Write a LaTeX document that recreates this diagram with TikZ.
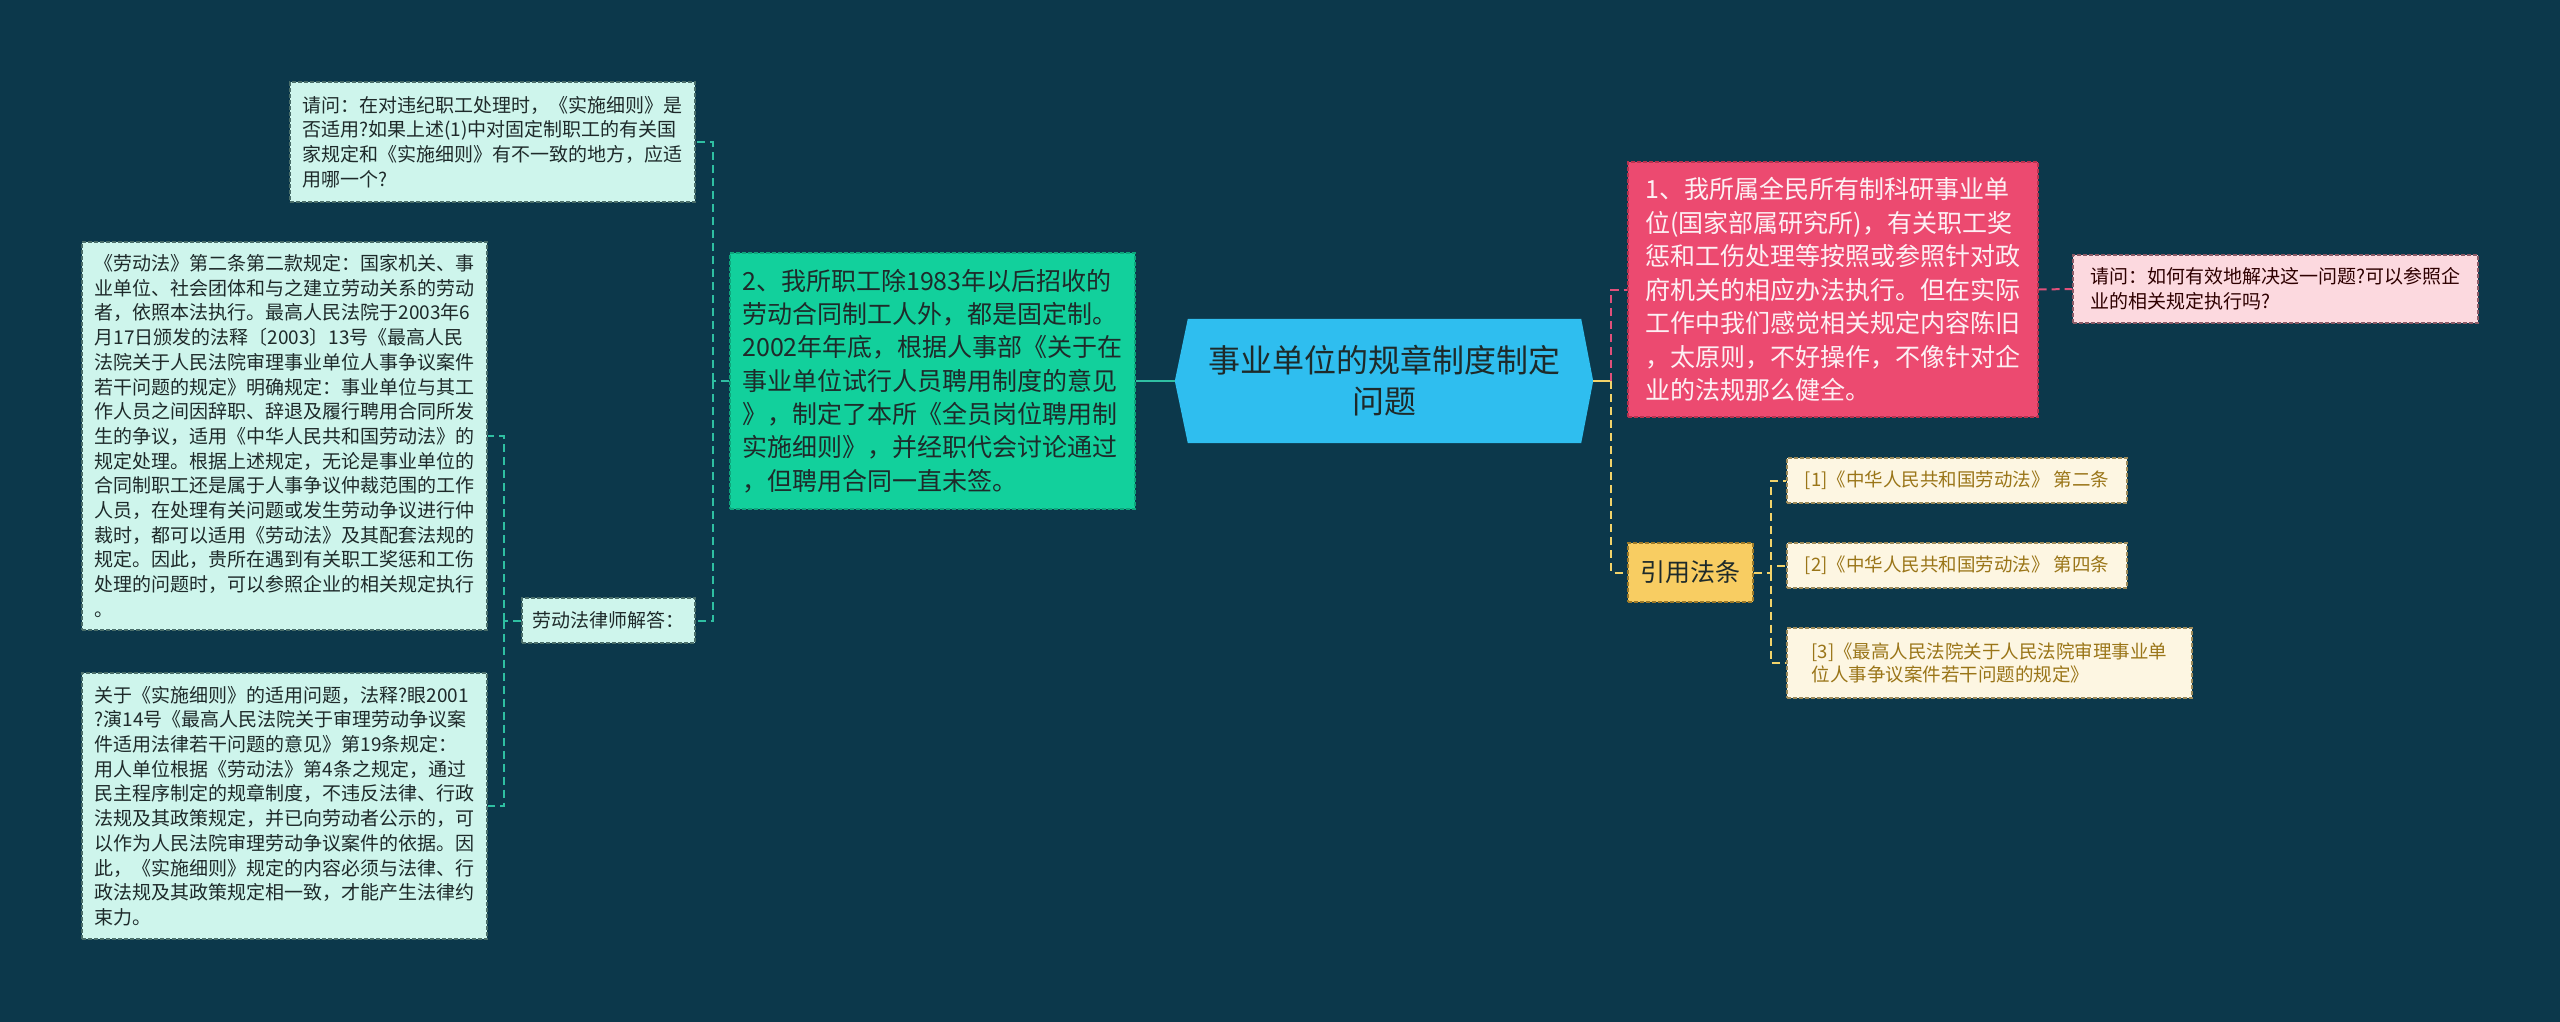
\documentclass[tikz,border=0pt]{standalone}
\usepackage{fontspec}
\setmainfont{Noto Sans CJK SC}
\usetikzlibrary{backgrounds}
\definecolor{bg}{HTML}{0C384B}
\definecolor{hexc}{HTML}{2FBEEF}
\definecolor{greenn}{HTML}{12D09C}
\definecolor{greennb}{HTML}{0EA57C}
\definecolor{mint}{HTML}{CEF5EC}
\definecolor{mintb}{HTML}{4A6E6A}
\definecolor{pinkn}{HTML}{EC4A70}
\definecolor{pinknb}{HTML}{B8324F}
\definecolor{pinkq}{HTML}{FCD9DF}
\definecolor{pinkqb}{HTML}{8A5A66}
\definecolor{yel}{HTML}{F8CD62}
\definecolor{yelb}{HTML}{9C7A2A}
\definecolor{cream}{HTML}{FDF6E2}
\definecolor{creamb}{HTML}{9C8A5A}
\definecolor{reftext}{HTML}{9A7518}
\definecolor{tealline}{HTML}{2FBFA2}
\definecolor{pinkline}{HTML}{E0507A}
\definecolor{yelline}{HTML}{F2D36A}
\definecolor{darktext}{HTML}{1E2A2A}
\tikzset{
  box/.style={rectangle, inner sep=0pt, align=left, line width=1.2pt, dash pattern=on 4pt off 2pt},
  mintbox/.style={box, fill=mint, draw=mintb, text=darktext, font=\fontsize{19}{24.7}\selectfont},
  refbox/.style={box, fill=cream, draw=creamb, text=reftext, font=\fontsize{18.5}{23.5}\selectfont},
  conn/.style={line width=2pt, dash pattern=on 8pt off 5pt},
}
\begin{document}
\begin{tikzpicture}[x=1pt,y=-1pt]
\useasboundingbox (0,0) rectangle (2560,1022);

% central
\node[align=center, text=darktext, font=\fontsize{32}{41}\selectfont, minimum width=418pt, minimum height=124pt, inner sep=0pt] (c) at (1384,381) {事业单位的规章制度制定\\问题};

% left branch
\node[box, fill=greenn, draw=greennb, text=darktext, font=\fontsize{25}{33.3}\selectfont, minimum width=405pt, minimum height=256pt] (n2) at (932.5,381) {2、我所职工除1983年以后招收的\\
劳动合同制工人外，都是固定制。\\
2002年年底，根据人事部《关于在\\
事业单位试行人员聘用制度的意见\\
》，制定了本所《全员岗位聘用制\\
实施细则》，并经职代会讨论通过\\
，但聘用合同一直未签。};

\node[mintbox, minimum width=405pt, minimum height=120pt] (q1) at (492.5,142) {请问：在对违纪职工处理时，《实施细则》是\\
否适用?如果上述(1)中对固定制职工的有关国\\
家规定和《实施细则》有不一致的地方，应适\\
用哪一个?};

\node[mintbox, minimum width=173pt, minimum height=45pt] (l1) at (608.5,620.5) {劳动法律师解答：};

\node[mintbox, minimum width=405pt, minimum height=388pt] (b1) at (284.5,436) {《劳动法》第二条第二款规定：国家机关、事\\
业单位、社会团体和与之建立劳动关系的劳动\\
者，依照本法执行。最高人民法院于2003年6\\
月17日颁发的法释〔2003〕13号《最高人民\\
法院关于人民法院审理事业单位人事争议案件\\
若干问题的规定》明确规定：事业单位与其工\\
作人员之间因辞职、辞退及履行聘用合同所发\\
生的争议，适用《中华人民共和国劳动法》的\\
规定处理。根据上述规定，无论是事业单位的\\
合同制职工还是属于人事争议仲裁范围的工作\\
人员，在处理有关问题或发生劳动争议进行仲\\
裁时，都可以适用《劳动法》及其配套法规的\\
规定。因此，贵所在遇到有关职工奖惩和工伤\\
处理的问题时，可以参照企业的相关规定执行\\
。};

\node[mintbox, minimum width=405pt, minimum height=266pt] (b2) at (284.5,806) {关于《实施细则》的适用问题，法释?眼2001\\
?演14号《最高人民法院关于审理劳动争议案\\
件适用法律若干问题的意见》第19条规定：\\
用人单位根据《劳动法》第4条之规定，通过\\
民主程序制定的规章制度，不违反法律、行政\\
法规及其政策规定，并已向劳动者公示的，可\\
以作为人民法院审理劳动争议案件的依据。因\\
此，《实施细则》规定的内容必须与法律、行\\
政法规及其政策规定相一致，才能产生法律约\\
束力。};

% right branch
\node[box, fill=pinkn, draw=pinknb, text=white!92!pinkn, font=\fontsize{25}{33.5}\selectfont, minimum width=410pt, minimum height=255pt] (p1) at (1833,289.5) {1、我所属全民所有制科研事业单\\
位(国家部属研究所)，有关职工奖\\
惩和工伤处理等按照或参照针对政\\
府机关的相应办法执行。但在实际\\
工作中我们感觉相关规定内容陈旧\\
，太原则，不好操作，不像针对企\\
业的法规那么健全。};

\node[box, fill=pinkq, draw=pinkqb, text=black!70!red!60!black, font=\fontsize{19}{25}\selectfont, minimum width=405pt, minimum height=68pt] (pq) at (2275.5,289) {请问：如何有效地解决这一问题?可以参照企\\
业的相关规定执行吗?};

\node[box, fill=yel, draw=yelb, text=darktext, font=\fontsize{25}{30}\selectfont, minimum width=125pt, minimum height=59pt] (y) at (1690.5,572.5) {引用法条};

\node[refbox, minimum width=340pt, minimum height=45pt] (r1) at (1957,480.5) {[1]《中华人民共和国劳动法》 第二条};
\node[refbox, minimum width=340pt, minimum height=45pt] (r2) at (1957,565.5) {[2]《中华人民共和国劳动法》 第四条};
\node[refbox, minimum width=405pt, minimum height=70pt] (r3) at (1989.5,663) {[3]《最高人民法院关于人民法院审理事业单\\位人事争议案件若干问题的规定》};

\begin{pgfonlayer}{background}
\fill[bg] (0,0) rectangle (2560,1022);
\fill[hexc] (c.west) -- ([xshift=13pt]c.north west) -- ([xshift=-12pt]c.north east) -- (c.east) -- ([xshift=-12pt]c.south east) -- ([xshift=13pt]c.south west) -- cycle;
\end{pgfonlayer}

% junction coordinates
\coordinate (j1) at (713,381);
\coordinate (j2) at (504,620.5);
\coordinate (j3) at (1611,381);
\coordinate (j4) at (1771,572.5);

% connectors left
\draw[line width=2pt, tealline] (c.west) -- (n2.east);
\draw[conn, tealline] (n2.west) -- (j1);
\draw[conn, tealline] (j1) |- (q1.east);
\draw[conn, tealline] (j1) |- (l1.east);
\draw[conn, tealline] (l1.west) -- (j2);
\draw[conn, tealline] (j2) |- (b1.east);
\draw[conn, tealline] (j2) |- (b2.east);

% connectors right
\draw[line width=2pt, yelline] (c.east) -- (j3);
\draw[conn, pinkline] (j3) |- (p1.west);
\draw[conn, pinkline] (p1.east) -- (pq.west);
\draw[conn, yelline] (j3) |- (y.west);
\draw[conn, yelline] (y.east) -- (j4);
\draw[conn, yelline] (j4) |- (r1.west);
\draw[conn, yelline] (j4) |- (r2.west);
\draw[conn, yelline] (j4) |- (r3.west);
\end{tikzpicture}
\end{document}
